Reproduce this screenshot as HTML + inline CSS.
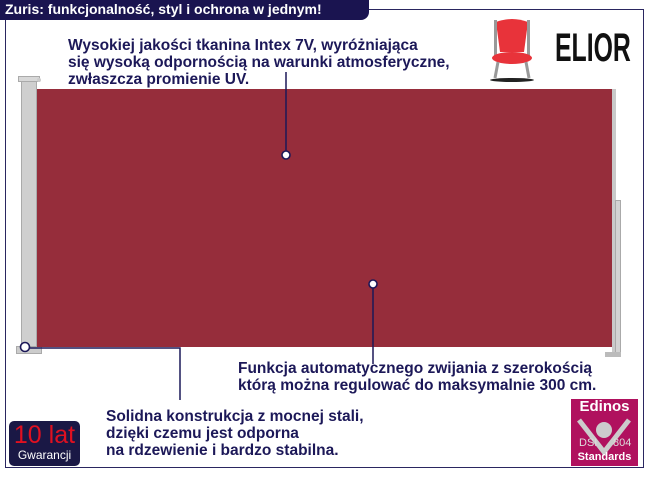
<!DOCTYPE html>
<html><head><meta charset="utf-8"><style>
*{margin:0;padding:0;box-sizing:border-box}
body{width:650px;height:477px;background:#fff;position:relative;overflow:hidden;font-family:"Liberation Sans",sans-serif}
.a{position:absolute}
.t{position:absolute;color:#1c1858;font-weight:bold;font-size:15.5px;line-height:17px;white-space:nowrap}
</style></head><body>
<div class="a" style="left:5px;top:9px;width:639px;height:459px;border:1.5px solid #2a2660"></div>
<div class="a" style="left:0;top:0;width:369px;height:20px;background:#1a1450;border-radius:0 0 8px 0;color:#fff;font-weight:bold;font-size:14px;line-height:19px;padding-left:5px">Zuris: funkcjonalność, styl i ochrona w jednym!</div>

<div class="a" style="left:21px;top:80px;width:16px;height:272px;background:#cfcfcf;border:1px solid #aaa"></div>
<div class="a" style="left:18px;top:76px;width:22px;height:6px;background:#d8d8d8;border:1px solid #aaa"></div>
<div class="a" style="left:37px;top:78px;width:4px;height:4px;border-radius:50%;background:#ccc"></div>
<div class="a" style="left:16px;top:346px;width:26px;height:8px;background:#ccc;border:1px solid #aaa"></div>
<div class="a" style="left:37px;top:89px;width:576px;height:258px;background:#962d3b"></div>
<div class="a" style="left:612px;top:89px;width:4px;height:266px;background:#c9c9c9"></div>
<div class="a" style="left:615px;top:200px;width:6px;height:157px;background:#d3d3d3;border:1px solid #aaa"></div>
<div class="a" style="left:605px;top:352px;width:16px;height:5px;background:#bbb"></div>

<svg class="a" style="left:0;top:0" width="650" height="477">
<g stroke="#1c1858" stroke-width="1.5" fill="none">
<line x1="286" y1="72" x2="286" y2="155"/>
<line x1="373" y1="284" x2="373" y2="364"/>
<polyline points="30,348 180,348 180,400"/>
</g>
<g fill="#fff" stroke="#1c1858" stroke-width="1.6">
<circle cx="286" cy="155" r="4"/>
<circle cx="373" cy="284" r="4"/>
<circle cx="25" cy="347" r="4.5"/>
</g>
</svg>

<div class="t" style="left:68px;top:37px">Wysokiej jakości tkanina Intex 7V, wyróżniająca<br>się wysoką odpornością na warunki atmosferyczne,<br>zwłaszcza promienie UV.</div>
<div class="t" style="left:238px;top:360px">Funkcja automatycznego zwijania z szerokością<br>którą można regulować do maksymalnie 300 cm.</div>
<div class="t" style="left:106px;top:408px">Solidna konstrukcja z mocnej stali,<br>dzięki czemu jest odporna<br>na rdzewienie i bardzo stabilna.</div>

<svg class="a" style="left:484px;top:14px" width="60" height="68">
<path d="M12 8 Q28 2 44 8 L40 38 L16 38 Z" fill="#e8333a"/>
<rect x="10" y="6" width="3" height="36" fill="#999"/><rect x="43" y="6" width="3" height="36" fill="#999"/>
<ellipse cx="28" cy="44" rx="20" ry="6" fill="#e8333a"/>
<line x1="14" y1="48" x2="11" y2="64" stroke="#999" stroke-width="3"/>
<line x1="42" y1="48" x2="45" y2="64" stroke="#999" stroke-width="3"/>
<ellipse cx="28" cy="66" rx="22" ry="2" fill="#222"/>
</svg>
<div class="a" style="left:555px;top:26px;font-weight:bold;font-size:40px;line-height:44px;color:#111;transform:scaleX(0.62);transform-origin:left">ELIOR</div>

<div class="a" style="left:9px;top:421px;width:71px;height:45px;background:#1a1845;border-radius:5px;text-align:center">
<div style="color:#e01020;font-size:25px;line-height:26px;margin-top:1px">10 lat</div>
<div style="color:#fff;font-size:12px;line-height:14px">Gwarancji</div></div>

<div class="a" style="left:571px;top:399px;width:67px;height:67px;background:#b0115e;color:#fff;text-align:center;overflow:hidden">
<div style="font-weight:bold;font-size:15px;line-height:18px;margin-top:-1px">Edinos</div>
<svg class="a" style="left:0;top:17px" width="67" height="40"><polyline points="8,4 33,36 58,4" fill="none" stroke="#ccc" stroke-width="5"/><circle cx="33" cy="14" r="8" fill="#ccc"/></svg>
<div class="a" style="left:8px;top:38px;font-size:11px;color:#ddd">DSI</div>
<div class="a" style="left:42px;top:38px;font-size:11px;color:#ddd">804</div>
<div class="a" style="left:0;top:52px;width:67px;font-weight:bold;font-size:11px">Standards</div>
</div>
</body></html>
